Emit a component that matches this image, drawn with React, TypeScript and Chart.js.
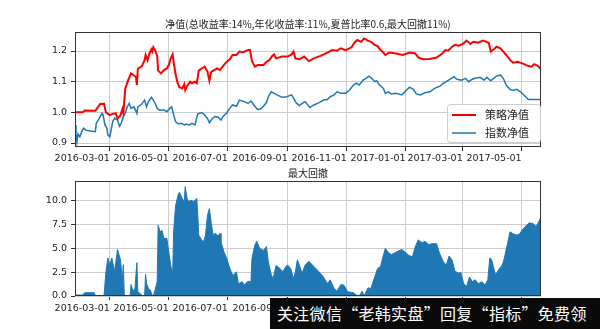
import React, { useEffect, useRef } from 'react';
import { Chart, registerables } from 'chart.js';

Chart.register(...registerables);

const topTitle = '净值(总收益率:14%,年化收益率:11%,夏普比率0.6,最大回撤11%)';
const bottomTitle = '最大回撤';
const seriesNames = ['策略净值', '指数净值'];
const watermarkText = '关注微信“老韩实盘”回复“指标”免费领';

const xStart = '2016-01-25';
const xEnd = '2017-05-21';
const xTickDates = ['2016-03-01', '2016-05-01', '2016-07-01', '2016-09-01', '2016-11-01', '2017-01-01', '2017-03-01', '2017-05-01'];
const netTicks = [0.9, 1.0, 1.1, 1.2];
const ddTicks = [0, 2.5, 5, 7.5, 10];

const strategyDates = [
  '2016-01-25', '2016-02-02', '2016-02-04', '2016-02-15', '2016-02-20', '2016-02-24', '2016-02-26', '2016-03-01', '2016-03-04', '2016-03-07',
  '2016-03-09', '2016-03-12', '2016-03-14', '2016-03-15', '2016-03-17', '2016-03-20', '2016-03-23', '2016-03-26', '2016-03-28', '2016-03-29',
  '2016-03-30', '2016-04-03', '2016-04-06', '2016-04-07', '2016-04-09', '2016-04-11', '2016-04-13', '2016-04-14', '2016-04-15', '2016-04-17',
  '2016-04-19', '2016-04-20', '2016-04-23', '2016-04-26', '2016-04-29', '2016-05-01', '2016-05-03', '2016-05-05', '2016-05-06', '2016-05-08',
  '2016-05-10', '2016-05-12', '2016-05-15', '2016-05-17', '2016-05-18', '2016-05-20', '2016-05-23', '2016-05-25', '2016-05-28', '2016-05-30',
  '2016-06-01', '2016-06-04', '2016-06-07', '2016-06-10', '2016-06-12', '2016-06-14', '2016-06-17', '2016-06-20', '2016-06-23', '2016-06-26',
  '2016-06-30', '2016-07-03', '2016-07-06', '2016-07-10', '2016-07-13', '2016-07-17', '2016-07-22', '2016-07-24', '2016-07-26', '2016-07-29',
  '2016-08-01', '2016-08-07', '2016-08-10', '2016-08-13', '2016-08-16', '2016-08-18', '2016-08-20', '2016-08-26', '2016-09-01', '2016-09-05',
  '2016-09-07', '2016-09-09', '2016-09-13', '2016-09-18', '2016-09-23', '2016-09-28', '2016-10-05', '2016-10-12', '2016-10-17', '2016-10-22',
  '2016-10-26', '2016-10-31', '2016-11-06', '2016-11-09', '2016-11-12', '2016-11-16', '2016-11-19', '2016-11-23', '2016-11-26', '2016-11-30',
  '2016-12-03', '2016-12-06', '2016-12-09', '2016-12-11', '2016-12-15', '2016-12-22', '2016-12-29', '2017-01-05', '2017-01-11', '2017-01-14',
  '2017-01-19', '2017-01-26', '2017-02-02', '2017-02-08', '2017-02-11', '2017-02-14', '2017-02-18', '2017-02-21', '2017-02-25', '2017-03-02',
  '2017-03-05', '2017-03-09', '2017-03-12', '2017-03-17', '2017-03-22', '2017-03-28', '2017-03-30', '2017-04-02', '2017-04-05', '2017-04-09',
  '2017-04-12', '2017-04-15', '2017-04-19', '2017-04-22', '2017-04-27', '2017-05-03', '2017-05-08', '2017-05-11', '2017-05-14', '2017-05-18',
  '2017-05-21',
];
const strategyValues = [
  1.000, 1.000, 1.006, 1.005, 1.027, 1.028, 1.000, 0.991, 0.995, 0.997,
  0.980, 0.990, 1.010, 0.997, 1.078, 1.105, 1.127, 1.120, 1.116, 1.089,
  1.143, 1.150, 1.170, 1.187, 1.170, 1.192, 1.205, 1.198, 1.212, 1.201,
  1.184, 1.136, 1.127, 1.138, 1.143, 1.154, 1.176, 1.189, 1.165, 1.125,
  1.097, 1.082, 1.078, 1.092, 1.073, 1.086, 1.100, 1.095, 1.100, 1.095,
  1.136, 1.143, 1.149, 1.133, 1.103, 1.133, 1.138, 1.143, 1.138, 1.151,
  1.165, 1.173, 1.187, 1.187, 1.198, 1.196, 1.203, 1.203, 1.168, 1.149,
  1.154, 1.154, 1.165, 1.170, 1.184, 1.189, 1.176, 1.182, 1.182, 1.189,
  1.198, 1.176, 1.173, 1.182, 1.167, 1.176, 1.184, 1.195, 1.203, 1.201,
  1.209, 1.203, 1.212, 1.227, 1.236, 1.230, 1.241, 1.234, 1.230, 1.220,
  1.216, 1.203, 1.195, 1.187, 1.195, 1.192, 1.187, 1.195, 1.192, 1.179,
  1.173, 1.174, 1.179, 1.192, 1.203, 1.201, 1.214, 1.220, 1.217, 1.225,
  1.234, 1.223, 1.230, 1.227, 1.234, 1.227, 1.198, 1.205, 1.214, 1.209,
  1.198, 1.187, 1.171, 1.162, 1.165, 1.158, 1.151, 1.149, 1.157, 1.151,
  1.140,
];

const indexDates = [
  '2016-01-25', '2016-01-26', '2016-01-27', '2016-01-28', '2016-01-30', '2016-02-01', '2016-02-03', '2016-02-05', '2016-02-10', '2016-02-15',
  '2016-02-16', '2016-02-18', '2016-02-20', '2016-02-22', '2016-02-23', '2016-02-25', '2016-02-27', '2016-02-28', '2016-03-01', '2016-03-03',
  '2016-03-04', '2016-03-06', '2016-03-09', '2016-03-11', '2016-03-13', '2016-03-15', '2016-03-17', '2016-03-19', '2016-03-21', '2016-03-23',
  '2016-03-26', '2016-03-29', '2016-03-30', '2016-04-03', '2016-04-06', '2016-04-08', '2016-04-10', '2016-04-13', '2016-04-15', '2016-04-17',
  '2016-04-19', '2016-04-21', '2016-04-26', '2016-04-29', '2016-05-02', '2016-05-04', '2016-05-06', '2016-05-08', '2016-05-11', '2016-05-14',
  '2016-05-17', '2016-05-19', '2016-05-22', '2016-05-25', '2016-05-28', '2016-05-31', '2016-06-04', '2016-06-07', '2016-06-10', '2016-06-12',
  '2016-06-15', '2016-06-18', '2016-06-21', '2016-06-24', '2016-06-26', '2016-06-30', '2016-07-03', '2016-07-06', '2016-07-10', '2016-07-13',
  '2016-07-18', '2016-07-22', '2016-07-25', '2016-07-29', '2016-08-01', '2016-08-05', '2016-08-08', '2016-08-10', '2016-08-12', '2016-08-15',
  '2016-08-18', '2016-08-21', '2016-08-26', '2016-08-31', '2016-09-05', '2016-09-07', '2016-09-10', '2016-09-13', '2016-09-16', '2016-09-19',
  '2016-09-24', '2016-09-28', '2016-10-03', '2016-10-08', '2016-10-12', '2016-10-15', '2016-10-19', '2016-10-22', '2016-10-26', '2016-10-31',
  '2016-11-04', '2016-11-08', '2016-11-11', '2016-11-14', '2016-11-18', '2016-11-21', '2016-11-24', '2016-11-27', '2016-11-30', '2016-12-02',
  '2016-12-05', '2016-12-09', '2016-12-11', '2016-12-14', '2016-12-17', '2016-12-22', '2016-12-28', '2017-01-02', '2017-01-05', '2017-01-09',
  '2017-01-12', '2017-01-16', '2017-01-21', '2017-01-26', '2017-01-31', '2017-02-06', '2017-02-09', '2017-02-12', '2017-02-16', '2017-02-20',
  '2017-02-23', '2017-02-28', '2017-03-04', '2017-03-07', '2017-03-11', '2017-03-14', '2017-03-19', '2017-03-23', '2017-03-26', '2017-03-30',
  '2017-04-02', '2017-04-05', '2017-04-09', '2017-04-12', '2017-04-15', '2017-04-19', '2017-04-22', '2017-04-26', '2017-05-01', '2017-05-05',
  '2017-05-08', '2017-05-13', '2017-05-21',
];
const indexValues = [
  0.959, 0.930, 0.904, 0.930, 0.920, 0.937, 0.948, 0.942, 0.939, 0.937,
  0.964, 0.975, 0.986, 0.997, 0.992, 0.959, 0.948, 0.926, 0.920, 0.953,
  0.970, 0.981, 0.975, 0.955, 0.966, 0.986, 0.997, 1.018, 1.029, 1.013,
  1.018, 0.997, 1.018, 1.027, 1.040, 1.018, 1.035, 1.049, 1.040, 1.029,
  1.013, 1.008, 1.008, 1.002, 1.013, 1.018, 0.992, 0.970, 0.962, 0.964,
  0.959, 0.962, 0.959, 0.964, 0.959, 0.995, 0.999, 0.992, 0.980, 0.966,
  0.980, 0.986, 0.984, 0.975, 0.986, 0.999, 1.013, 1.024, 1.020, 1.040,
  1.035, 1.029, 1.037, 1.020, 1.009, 1.013, 1.024, 1.032, 1.051, 1.067,
  1.062, 1.057, 1.049, 1.051, 1.057, 1.046, 1.030, 1.022, 1.029, 1.035,
  1.016, 1.024, 1.031, 1.040, 1.042, 1.051, 1.057, 1.067, 1.062, 1.062,
  1.073, 1.089, 1.095, 1.089, 1.105, 1.111, 1.118, 1.111, 1.100, 1.103,
  1.089, 1.078, 1.062, 1.067, 1.060, 1.062, 1.057, 1.073, 1.082, 1.075,
  1.060, 1.057, 1.064, 1.067, 1.078, 1.086, 1.095, 1.100, 1.108, 1.116,
  1.108, 1.105, 1.111, 1.100, 1.108, 1.111, 1.114, 1.105, 1.114, 1.103,
  1.111, 1.118, 1.122, 1.111, 1.089, 1.075, 1.071, 1.075, 1.064, 1.051,
  1.042, 1.042, 1.042,
];

const drawdownDates = [
  '2016-01-25', '2016-02-02', '2016-02-04', '2016-02-14', '2016-02-15', '2016-02-24', '2016-02-26', '2016-02-28', '2016-03-01', '2016-03-03',
  '2016-03-06', '2016-03-09', '2016-03-12', '2016-03-14', '2016-03-15', '2016-03-16', '2016-03-22', '2016-03-23', '2016-03-25', '2016-03-27',
  '2016-03-29', '2016-03-30', '2016-04-01', '2016-04-04', '2016-04-06', '2016-04-07', '2016-04-08', '2016-04-10', '2016-04-12', '2016-04-14',
  '2016-04-16', '2016-04-19', '2016-04-20', '2016-04-22', '2016-04-24', '2016-04-26', '2016-04-29', '2016-04-30', '2016-05-03', '2016-05-05',
  '2016-05-06', '2016-05-08', '2016-05-11', '2016-05-12', '2016-05-15', '2016-05-17', '2016-05-18', '2016-05-20', '2016-05-22', '2016-05-24',
  '2016-05-25', '2016-05-28', '2016-05-30', '2016-05-31', '2016-06-01', '2016-06-04', '2016-06-06', '2016-06-08', '2016-06-10', '2016-06-12',
  '2016-06-14', '2016-06-16', '2016-06-18', '2016-06-21', '2016-06-23', '2016-06-24', '2016-06-27', '2016-06-30', '2016-07-02', '2016-07-05',
  '2016-07-07', '2016-07-10', '2016-07-12', '2016-07-16', '2016-07-18', '2016-07-22', '2016-07-25', '2016-07-26', '2016-07-29', '2016-07-31',
  '2016-08-03', '2016-08-07', '2016-08-10', '2016-08-12', '2016-08-15', '2016-08-17', '2016-08-20', '2016-08-24', '2016-08-27', '2016-08-30',
  '2016-09-01', '2016-09-04', '2016-09-07', '2016-09-09', '2016-09-11', '2016-09-13', '2016-09-16', '2016-09-19', '2016-09-23', '2016-09-28',
  '2016-10-03', '2016-10-08', '2016-10-12', '2016-10-15', '2016-10-19', '2016-10-22', '2016-10-26', '2016-10-29', '2016-11-02', '2016-11-08',
  '2016-11-11', '2016-11-14', '2016-11-17', '2016-11-19', '2016-11-23', '2016-11-26', '2016-11-30', '2016-12-03', '2016-12-06', '2016-12-09',
  '2016-12-11', '2016-12-14', '2016-12-17', '2016-12-22', '2016-12-28', '2016-12-31', '2017-01-04', '2017-01-08', '2017-01-11', '2017-01-14',
  '2017-01-18', '2017-01-21', '2017-01-25', '2017-01-28', '2017-02-02', '2017-02-05', '2017-02-09', '2017-02-12', '2017-02-15', '2017-02-18',
  '2017-02-21', '2017-02-25', '2017-02-27', '2017-03-02', '2017-03-05', '2017-03-08', '2017-03-11', '2017-03-14', '2017-03-17', '2017-03-21',
  '2017-03-24', '2017-03-27', '2017-03-29', '2017-03-31', '2017-04-04', '2017-04-08', '2017-04-11', '2017-04-13', '2017-04-16', '2017-04-19',
  '2017-04-22', '2017-04-26', '2017-04-29', '2017-05-02', '2017-05-06', '2017-05-09', '2017-05-13', '2017-05-16', '2017-05-18', '2017-05-21',
];
const drawdownValues = [
  0.1, 0.1, 0.35, 0.35, 0.0, 0.0, 2.55, 4.0, 3.25, 4.0,
  2.6, 4.9, 3.8, 1.7, 3.3, 0.0, 0.0, 1.2, 0.5, 0.8,
  3.5, 0.45, 0.3, 0.0, 0.0, 2.3, 1.3, 0.8, 0.6, 0.0,
  0.3, 1.5, 7.45, 6.75, 6.9, 6.05, 6.05, 5.35, 3.25, 2.2,
  6.75, 9.5, 10.75, 10.9, 10.25, 9.9, 11.5, 10.25, 9.9, 10.1,
  9.8, 10.05, 10.25, 8.5, 6.4, 5.9, 5.7, 6.4, 8.5, 9.2,
  7.6, 6.4, 6.6, 6.3, 6.6, 5.7, 4.65, 3.95, 3.25, 2.4,
  2.2, 2.55, 1.3, 1.5, 1.15, 1.55, 1.5, 3.95, 5.35, 5.75,
  5.0, 4.8, 5.2, 3.6, 2.2, 1.85, 3.2, 2.9, 2.55, 3.1,
  3.25, 2.9, 1.85, 2.55, 3.8, 3.25, 2.4, 3.25, 3.65, 3.1,
  2.6, 2.0, 1.3, 1.7, 0.8, 0.5, 1.2, 1.15, 0.45, 0.35,
  0.1, 0.0, 0.5, 0.0, 0.85, 0.8, 2.0, 2.9, 3.1, 4.3,
  5.0, 4.6, 4.35, 4.6, 4.9, 4.65, 4.3, 4.1, 5.2, 5.9,
  5.6, 5.75, 5.4, 5.5, 5.5, 4.5, 3.6, 3.25, 4.2, 3.8,
  2.6, 2.4, 2.5, 1.3, 1.0, 2.0, 1.5, 1.7, 1.3, 1.5,
  1.15, 1.7, 4.0, 3.8, 2.2, 2.9, 3.25, 3.95, 5.35, 6.75,
  6.55, 6.4, 6.55, 7.0, 7.45, 7.7, 7.6, 7.3, 7.7, 8.3,
];

const toDay = (s: string) => {
  const [y, m, d] = s.split('-').map(Number);
  return Date.UTC(y, m - 1, d) / 86400000;
};
const fmtDay = (v: number) => new Date(Math.round(v) * 86400000).toISOString().slice(0, 10);
const pts = (dates: string[], vals: number[]) => dates.map((d, i) => ({ x: toDay(d), y: vals[i] }));

const RED = '#ff0000';
const BLUE = '#1f77b4';
const GRID = '#cccccc';
const FRAME = '#333333';
const TEXT = '#222222';
const TICK_FONT = { family: '"DejaVu Sans", sans-serif', size: 9.5 };
const CJK = '"Noto Sans CJK SC", "Noto Sans", sans-serif';

const xScale = (axisHeight: number, pad: number) => ({
  type: 'linear',
  min: toDay(xStart),
  max: toDay(xEnd),
  afterBuildTicks: (s: any) => {
    s.ticks = xTickDates.map((d) => ({ value: toDay(d) }));
  },
  afterFit: (s: any) => {
    s.height = axisHeight;
  },
  ticks: {
    callback: (v: any) => fmtDay(Number(v)),
    autoSkip: false,
    maxRotation: 0,
    minRotation: 0,
    align: 'end',
    font: TICK_FONT,
    color: TEXT,
    padding: pad,
  },
  grid: { color: GRID, tickLength: 4, tickColor: FRAME, lineWidth: 1 },
  border: { display: false },
});

const yScale = (min: number, max: number, ticks: number[], digits: number) => ({
  type: 'linear',
  min,
  max,
  afterBuildTicks: (s: any) => {
    s.ticks = ticks.map((v) => ({ value: v }));
  },
  afterFit: (s: any) => {
    s.width = 75;
  },
  ticks: {
    callback: (v: any) => Number(v).toFixed(digits),
    font: TICK_FONT,
    color: TEXT,
    padding: 4,
  },
  grid: { color: GRID, tickLength: 4, tickColor: FRAME, lineWidth: 1 },
  border: { display: false },
});

const decorPlugin = (title: string, titleY: number, legend: boolean) => ({
  id: 'decor' + titleY,
  afterDraw(chart: any) {
    const { ctx, chartArea: a } = chart;
    ctx.save();
    ctx.strokeStyle = FRAME;
    ctx.lineWidth = 1;
    ctx.strokeRect(Math.round(a.left) + 0.5, Math.round(a.top) + 0.5, Math.round(a.right - a.left) - 1, Math.round(a.bottom - a.top) - 1);
    ctx.fillStyle = TEXT;
    ctx.font = `10px ${CJK}`;
    ctx.textAlign = 'center';
    ctx.textBaseline = 'middle';
    ctx.fillText(title, (a.left + a.right) / 2, titleY);
    if (legend) {
      const bx = 447, by = 104, bw = 93, bh = 38;
      ctx.fillStyle = 'rgba(255,255,255,0.85)';
      ctx.strokeStyle = '#cccccc';
      ctx.beginPath();
      (ctx as any).roundRect(bx + 0.5, by + 0.5, bw, bh, 3);
      ctx.fill();
      ctx.stroke();
      chart.data.datasets.forEach((ds: any, i: number) => {
        const ly = by + 11 + i * 18;
        ctx.strokeStyle = ds.borderColor;
        ctx.lineWidth = ds.borderWidth;
        ctx.beginPath();
        ctx.moveTo(bx + 5, ly);
        ctx.lineTo(bx + 29, ly);
        ctx.stroke();
        ctx.fillStyle = TEXT;
        ctx.font = `11px ${CJK}`;
        ctx.textAlign = 'left';
        ctx.fillText(ds.label, bx + 38, ly);
      });
    }
    ctx.restore();
  },
});

function TopChart() {
  const ref = useRef<HTMLCanvasElement>(null);
  useEffect(() => {
    const chart = new Chart(ref.current as HTMLCanvasElement, {
      type: 'line',
      data: {
        datasets: [
          { label: seriesNames[0], data: pts(strategyDates, strategyValues), borderColor: RED, borderWidth: 2, pointRadius: 0, tension: 0 },
          { label: seriesNames[1], data: pts(indexDates, indexValues), borderColor: BLUE, borderWidth: 1.5, pointRadius: 0, tension: 0 },
        ],
      },
      options: {
        animation: false,
        responsive: false,
        devicePixelRatio: 1,
        layout: { padding: { left: 0, right: 59, top: 32, bottom: 0 } },
        plugins: { legend: { display: false }, tooltip: { enabled: false }, title: { display: false } },
        scales: {
          x: xScale(18, 2) as any,
          y: yScale(0.887, 1.262, netTicks, 1) as any,
        },
      },
      plugins: [decorPlugin(topTitle, 24, true)],
    } as any);
    return () => chart.destroy();
  }, []);
  return <canvas ref={ref} width={600} height={165} style={{ position: 'absolute', left: 0, top: 0, display: 'block' }} />;
}

function BottomChart() {
  const ref = useRef<HTMLCanvasElement>(null);
  useEffect(() => {
    const chart = new Chart(ref.current as HTMLCanvasElement, {
      type: 'line',
      data: {
        datasets: [
          {
            label: bottomTitle,
            data: pts(drawdownDates, drawdownValues),
            borderColor: BLUE,
            backgroundColor: BLUE,
            borderWidth: 1,
            fill: 'origin',
            pointRadius: 0,
            tension: 0,
          },
        ],
      },
      options: {
        animation: false,
        responsive: false,
        devicePixelRatio: 1,
        layout: { padding: { left: 0, right: 59, top: 16, bottom: 0 } },
        plugins: { legend: { display: false }, tooltip: { enabled: false }, title: { display: false } },
        scales: {
          x: xScale(33, 3) as any,
          y: yScale(0, 12.1, ddTicks, 1) as any,
        },
      },
      plugins: [decorPlugin(bottomTitle, 8, false)],
    } as any);
    return () => chart.destroy();
  }, []);
  return <canvas ref={ref} width={600} height={164} style={{ position: 'absolute', left: 0, top: 165, display: 'block' }} />;
}

export default function App() {
  useEffect(() => {
    document.body.style.margin = '0';
  }, []);
  return (
    <div style={{ position: 'relative', width: 600, height: 329, background: '#ffffff', overflow: 'hidden' }}>
      <TopChart />
      <BottomChart />
      <div
        lang="zh-CN"
        style={{
          position: 'absolute',
          left: 270,
          top: 298,
          width: 330,
          height: 31,
          background: '#0a0a0a',
          color: '#ffffff',
          fontFamily: CJK,
          fontSize: 16,
          lineHeight: '31px',
          paddingLeft: 7,
          whiteSpace: 'nowrap',
          boxSizing: 'border-box',
          letterSpacing: 0.3,
        }}
      >
        {watermarkText}
      </div>
    </div>
  );
}
